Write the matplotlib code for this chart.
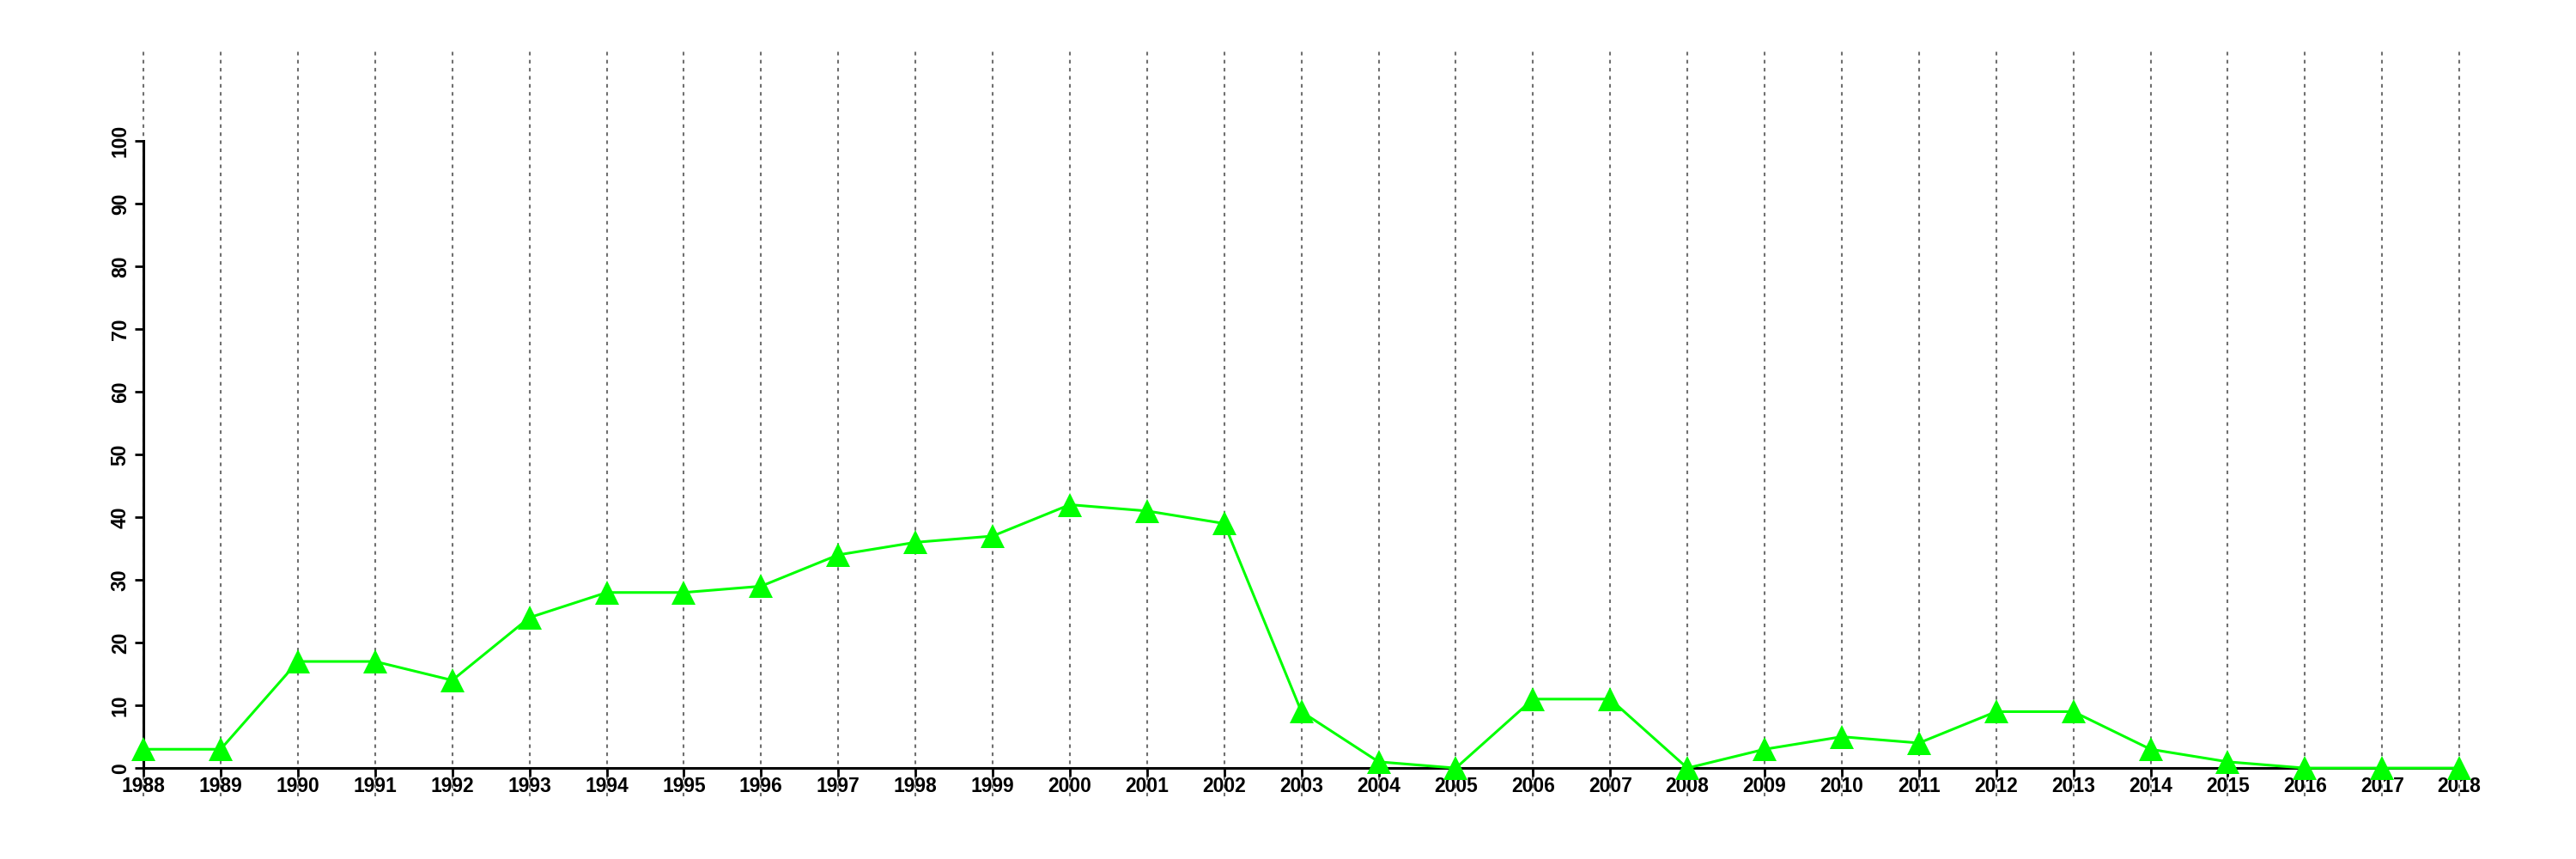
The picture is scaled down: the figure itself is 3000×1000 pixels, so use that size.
import matplotlib
matplotlib.use("Agg")
import matplotlib.pyplot as plt

# Yearly counts
years = list(range(1988, 2019))
values = [3, 3, 17, 17, 14, 24, 28, 28, 29, 34, 36, 37, 42, 41, 39,
          9, 1, 0, 11, 11, 0, 3, 5, 4, 9, 9, 3, 1, 0, 0, 0]
y_ticks = list(range(0, 101, 10))

plt.rcParams["font.family"] = ["Liberation Sans", "DejaVu Sans"]
plt.rcParams["font.weight"] = "bold"

fig = plt.figure(figsize=(30, 10), dpi=100)
ax = fig.add_axes([0.0557, 0.073, 0.899, 0.868])

# Dotted vertical lines at each year, spanning the full plot region
for yr in years:
    ax.axvline(yr, color="#707070", linestyle=(0, (2, 2.5)), linewidth=1.5,
               zorder=1, clip_on=False)

ax.plot(years, values, color="#00ff00", linewidth=2.2, marker="^",
        markersize=20, markeredgewidth=0, clip_on=False, zorder=3)

ax.set_xlim(1988, 2018)
ax.set_ylim(-4.5, 114.4)

for side in ["top", "right"]:
    ax.spines[side].set_visible(False)
ax.spines["left"].set_bounds(0, 100)
ax.spines["bottom"].set_bounds(1988, 2018)
ax.spines["bottom"].set_position(("data", 0))
ax.spines["left"].set_linewidth(2.2)
ax.spines["bottom"].set_linewidth(2.2)

ax.set_xticks(years)
ax.set_xticklabels([str(y) for y in years], fontsize=16.5, fontweight="bold")
ax.set_yticks(y_ticks)
ax.set_yticklabels([str(v) for v in y_ticks], fontsize=16.5, fontweight="bold",
                   rotation=90, va="center")
ax.tick_params(axis="both", length=7, width=2, direction="out")
ax.tick_params(axis="x", pad=0)
ax.tick_params(axis="y", pad=4)

fig.savefig("out.png", dpi=100)
